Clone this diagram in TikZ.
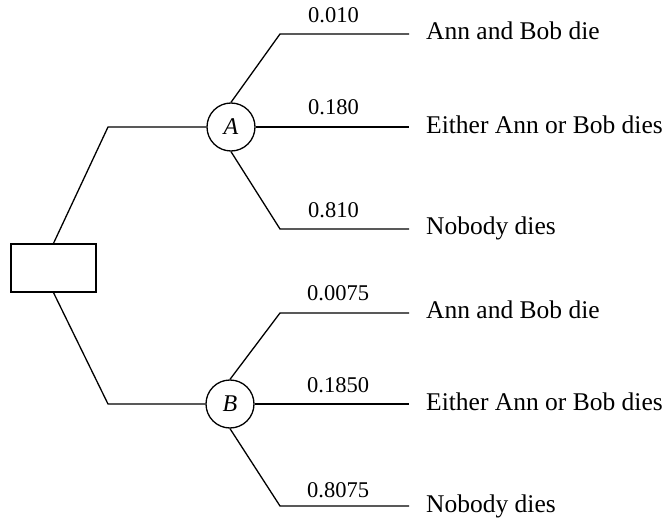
\documentclass[tikz,border=0pt]{standalone}
\usepackage{fontspec}
\setmainfont{Liberation Serif}
\begin{document}
\begin{tikzpicture}[x=1pt,y=-1pt,
  edge/.style={draw=black, line width=1.3pt},
  decision/.style={draw=black, line width=1.3pt, minimum width=85pt, minimum height=48pt, inner sep=0pt},
  chance/.style={draw=black, line width=1.3pt, circle, minimum size=48pt, inner sep=0pt, font=\fontsize{24}{28}\selectfont\itshape},
  prob/.style={anchor=base west, inner sep=0pt, font=\fontsize{22.5}{26}\selectfont},
  outcome/.style={anchor=base west, inner sep=0pt, font=\fontsize{25.5}{30}\selectfont}]
\useasboundingbox (0,0) rectangle (665,519);

% decision box and the two chance nodes
\node[decision] (dec) at (53.5,268) {};
\node[chance] (A) at (231,127) {A};
\node[chance] (B) at (230,404) {B};

% bends of the two main branches
\coordinate (ta) at (108,127);
\coordinate (tb) at (108,404);
\draw[edge] (dec.north) -- (ta) -- (A.west);
\draw[edge] (dec.south) -- (tb) -- (B.west);

% outcome branches of A
\coordinate (ka1) at (280,34);  \coordinate (ea1) at (409,34);
\coordinate (ea2) at (409,127);
\coordinate (ka3) at (280,229); \coordinate (ea3) at (409,229);
\draw[edge] (A.north) -- (ka1) -- (ea1);
\draw[edge] (A.east) -- (ea2);
\draw[edge] (A.south) -- (ka3) -- (ea3);

% outcome branches of B
\coordinate (kb1) at (280,313); \coordinate (eb1) at (409,313);
\coordinate (eb2) at (409,404);
\coordinate (kb3) at (280,506); \coordinate (eb3) at (409,506);
\draw[edge] (B.north) -- (kb1) -- (eb1);
\draw[edge] (B.east) -- (eb2);
\draw[edge] (B.south) -- (kb3) -- (eb3);

% probabilities
\node[prob] (pa1) at (308,23) {0.010};
\node[prob] (pa2) at (308,115) {0.180};
\node[prob] (pa3) at (308,217) {0.810};
\node[prob] (pb1) at (307,300) {0.0075};
\node[prob] (pb2) at (307,392) {0.1850};
\node[prob] (pb3) at (307,497) {0.8075};

% outcomes
\node[outcome] (oa1) at (426,40) {Ann and Bob die};
\node[outcome] (oa2) at (426,133) {Either Ann or Bob dies};
\node[outcome] (oa3) at (426,234) {Nobody dies};
\node[outcome] (ob1) at (426,318) {Ann and Bob die};
\node[outcome] (ob2) at (426,410) {Either Ann or Bob dies};
\node[outcome] (ob3) at (426,512) {Nobody dies};
\end{tikzpicture}
\end{document}
